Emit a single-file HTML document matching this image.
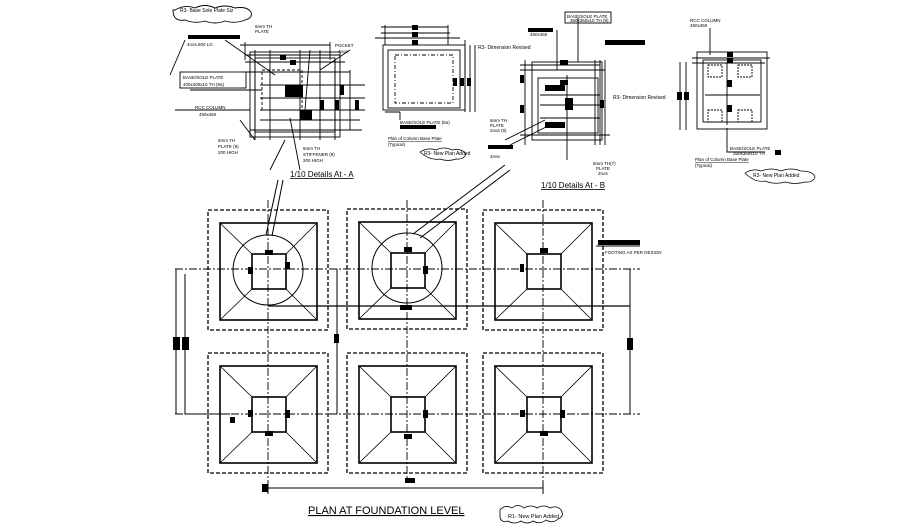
<!DOCTYPE html>
<html><head><meta charset="utf-8"><style>
html,body{margin:0;padding:0;background:#fff}
svg{display:block}
text{font-family:"Liberation Sans",sans-serif;fill:#000}
</style></head><body>
<svg width="905" height="529" viewBox="0 0 905 529" xmlns="http://www.w3.org/2000/svg">
<defs>
<g id="ft">
<rect x="-60" y="-60" width="120" height="120" fill="none" stroke="#000" stroke-width="1.3" stroke-dasharray="4,2"/>
<rect x="-48" y="-47" width="97" height="97" fill="none" stroke="#000" stroke-width="1.6"/>
<rect x="-16" y="-16" width="34" height="35" fill="none" stroke="#000" stroke-width="1.6"/>
<path d="M-48,-47L-16,-16M49,-47L18,-16M-48,50L-16,19M49,50L18,19" stroke="#000" stroke-width="0.8"/>
</g>
</defs>
<g stroke="#000" fill="none">
<!-- axes -->
<g stroke-width="0.9" stroke-dasharray="8,2,2,2">
<path d="M175,269H640M175,414H640"/>
<path d="M268,200V482M407,200V482M543,200V482"/>
</g>
<use href="#ft" x="268" y="270"/>
<use href="#ft" x="407" y="269"/>
<use href="#ft" x="543" y="270"/>
<use href="#ft" x="268" y="413"/>
<use href="#ft" x="407" y="413"/>
<use href="#ft" x="543" y="413"/>
<circle cx="268" cy="270" r="35" stroke-width="1"/>
<circle cx="407" cy="268" r="35" stroke-width="1"/>
<path d="M268,306H630" stroke-width="1.2"/>
<!-- leaders -->
<path d="M266,235L278,180M272,236L283,180M413,234L505,165M420,238L510,170" stroke-width="1"/>
<!-- dims -->
<path d="M176,269V414M185,274V414H230M337,269V414M630,269V414M268,488H543M268,482V494M543,482V494" stroke-width="1"/>
<path d="M596,246H640" stroke-width="1"/>
</g>
<g fill="#000">
<rect x="173" y="337" width="7" height="13"/><rect x="182" y="337" width="7" height="13"/>
<rect x="334" y="334" width="5" height="9"/><rect x="627" y="338" width="6" height="12"/>
<rect x="265" y="250" width="8" height="5"/><rect x="248" y="267" width="5" height="7"/><rect x="285" y="262" width="5" height="7"/>
<rect x="404" y="247" width="8" height="5"/><rect x="423" y="266" width="5" height="8"/><rect x="400" y="305" width="12" height="5"/>
<rect x="540" y="248" width="8" height="5"/><rect x="520" y="264" width="4" height="8"/>
<rect x="248" y="410" width="5" height="7"/><rect x="285" y="410" width="5" height="8"/><rect x="265" y="431" width="8" height="5"/><rect x="230" y="417" width="5" height="6"/>
<rect x="423" y="410" width="5" height="8"/><rect x="404" y="434" width="8" height="5"/>
<rect x="520" y="410" width="5" height="7"/><rect x="560" y="410" width="5" height="8"/><rect x="540" y="431" width="8" height="5"/>
<rect x="598" y="240" width="42" height="5"/>
<rect x="405" y="478" width="10" height="5"/><rect x="262" y="484" width="6" height="8"/>
</g>
<text x="605" y="254" font-size="4.5">FOOTING AS PER DESIGN</text>
<text x="308" y="514" font-size="11" text-decoration="underline">PLAN AT FOUNDATION LEVEL</text>
<g stroke="#000" fill="none" stroke-width="0.8">
<path d="M500,510q5,-6 12,-2q6,-5 12,0q7,-4 13,0q7,-4 13,0q7,-3 11,2q4,6 -3,9q-5,5 -12,1q-6,5 -13,1q-6,4 -12,0q-7,4 -13,0q-7,2 -8,-4z"/>
</g>
<text x="508" y="518" font-size="5.5">R1- New Plan Added</text>

<!-- Detail A -->
<g stroke="#000" fill="none" stroke-width="0.9">
<rect x="250" y="52" width="90" height="85"/>
<rect x="255" y="58" width="80" height="74"/>
<path d="M245,55H340M245,62H345M245,72H350M260,85H365M260,98H365M260,110H365M260,120H360M250,130H362M255,50V140M270,50V140M300,50V140M320,50V140M335,60V140M350,70V130M240,45H330M245,42V60M330,42V60"/>
<rect x="262" y="70" width="40" height="40" stroke-dasharray="3,2"/>
<path d="M275,75L225,40M190,90H262M175,110H250M290,118L300,170M285,140L270,170M350,50L320,70M310,50L305,110M240,120L255,140"/>
<rect x="180" y="72" width="66" height="16"/>
<path d="M185,40L170,75"/>
<path d="M175,10q10,-6 20,-2q10,-5 20,0q10,-4 20,0q12,-2 16,4q2,6 -6,8q-10,4 -20,1q-10,4 -20,0q-10,3 -20,-1q-12,2 -12,-10z"/>
</g>
<g fill="#000"><rect x="188" y="35" width="52" height="4"/><rect x="285" y="85" width="18" height="12"/><rect x="300" y="110" width="12" height="10"/><rect x="320" y="100" width="4" height="10"/><rect x="335" y="100" width="4" height="10"/><rect x="340" y="85" width="4" height="10"/><rect x="355" y="100" width="4" height="10"/><rect x="290" y="60" width="6" height="5"/><rect x="280" y="55" width="6" height="5"/></g>
<text x="180" y="12" font-size="5">R3- Base Sole Plate Siz</text>
<text x="187" y="46" font-size="4.5">4nos.600 LG</text>
<text x="183" y="79" font-size="4.5">BASE/SOLE PLATE</text><text x="183" y="86" font-size="4.5">400x400x10 TH (8a)</text>
<text x="195" y="109" font-size="4.5">RCC COLUMN</text><text x="199" y="116" font-size="4.5">450x450</text>
<text x="255" y="28" font-size="4.5">6mm TH</text><text x="255" y="33" font-size="4.5">PLATE</text>
<text x="335" y="47" font-size="4.5">POCKET</text><text x="338" y="53" font-size="4.5">4nos</text>
<text x="218" y="142" font-size="4.5">6mm TH</text><text x="218" y="148" font-size="4.5">PLATE (9)</text><text x="218" y="154" font-size="4.5">200 HIGH</text>
<text x="303" y="150" font-size="4.5">6mm TH</text><text x="303" y="156" font-size="4.5">STIFFENER (9)</text><text x="303" y="162" font-size="4.5">200 HIGH</text>
<text x="290" y="177" font-size="8" text-decoration="underline">1/10 Details At - A</text>

<!-- Plan of column base plate (A) -->
<g stroke="#000" fill="none" stroke-width="0.9">
<rect x="383" y="45" width="82" height="65"/>
<rect x="388" y="50" width="72" height="58"/>
<rect x="395" y="55" width="58" height="48" stroke-dasharray="4,2,1,2"/>
<path d="M381,27H448M381,33H450M375,38H460M385,25V45M448,25V45M465,40V112M470,45V112M475,45V112M385,112H400M400,112V120"/>
</g>
<g fill="#000"><rect x="412" y="25" width="6" height="5"/><rect x="412" y="32" width="6" height="5"/><rect x="412" y="40" width="6" height="5"/><rect x="453" y="78" width="4" height="8"/><rect x="460" y="78" width="4" height="8"/><rect x="467" y="78" width="4" height="8"/><rect x="400" y="125" width="36" height="4"/></g>
<text x="400" y="124" font-size="4.5">BASE/SOLE PLATE (8a)</text>
<text x="388" y="140" font-size="4.5" text-decoration="underline">Plan of Column Base Plate</text><text x="388" y="146" font-size="4.5">(Typical)</text>
<path d="M420,152q8,-5 16,-2q8,-4 16,0q10,-2 14,4q-2,6 -10,5q-8,3 -16,0q-10,2 -20,-7z" stroke="#000" fill="none" stroke-width="0.7"/>
<text x="424" y="155" font-size="5">R3- New Plan Added</text>

<!-- Detail B -->
<g stroke="#000" fill="none" stroke-width="0.9">
<rect x="532" y="62" width="70" height="78"/>
<rect x="538" y="78" width="60" height="55"/>
<path d="M520,65H600M520,70H605M540,95H600M540,105H600M540,118H600M520,135H610M525,60V145M595,60V145M600,60V145M605,60V145M567,75V160M557,30V70M578,18V62"/>
<rect x="565" y="12" width="46" height="11"/>
<path d="M505,140L545,120M510,145L550,125"/>
</g>
<g fill="#000"><rect x="560" y="60" width="8" height="5"/><rect x="560" y="80" width="8" height="5"/><rect x="565" y="98" width="8" height="12"/><rect x="520" y="75" width="4" height="8"/><rect x="520" y="105" width="4" height="8"/><rect x="600" y="100" width="4" height="8"/><rect x="605" y="40" width="40" height="5"/><rect x="528" y="28" width="25" height="4"/><rect x="488" y="145" width="25" height="4"/><rect x="545" y="85" width="20" height="6"/><rect x="545" y="122" width="20" height="6"/></g>
<text x="567" y="18" font-size="4.5">BASE/SOLE PLATE</text><text x="570" y="22" font-size="4.5">350x350x10 TH (8)</text>
<text x="530" y="36" font-size="4.5">450x450</text>
<text x="478" y="49" font-size="5">R3- Dimension Revised</text>
<text x="613" y="99" font-size="5">R3- Dimension Revised</text>
<text x="490" y="122" font-size="4.5">6mm TH</text><text x="490" y="127" font-size="4.5">PLATE</text><text x="490" y="132" font-size="4.5">2nos (9)</text>
<text x="490" y="158" font-size="4.5">4nos</text>
<text x="593" y="165" font-size="4.5">6mm TH(7)</text><text x="596" y="170" font-size="4.5">PLATE</text><text x="598" y="175" font-size="4.5">2nos</text>
<text x="541" y="188" font-size="8" text-decoration="underline">1/10 Details At - B</text>

<!-- Right plan -->
<g stroke="#000" fill="none" stroke-width="0.9">
<rect x="697" y="52" width="70" height="77"/>
<rect x="703" y="60" width="58" height="62"/>
<path d="M692,58H770M692,63H765M680,62V130M686,62V130M710,28V55M727,62V125M705,95H760M727,128V152H765"/>
<rect x="708" y="65" width="14" height="12" stroke-dasharray="2,1"/><rect x="738" y="65" width="14" height="12" stroke-dasharray="2,1"/>
<rect x="708" y="110" width="14" height="12" stroke-dasharray="2,1"/><rect x="738" y="110" width="14" height="12" stroke-dasharray="2,1"/>
<path d="M745,173q8,-5 16,-2q10,-4 20,0q10,-4 20,0q12,0 14,6q-2,6 -10,5q-10,3 -20,0q-10,3 -20,-1q-10,2 -20,-8z" stroke-width="0.7"/>
</g>
<g fill="#000"><rect x="727" y="52" width="6" height="5"/><rect x="727" y="58" width="6" height="5"/><rect x="677" y="92" width="5" height="8"/><rect x="684" y="92" width="5" height="8"/><rect x="727" y="80" width="5" height="7"/><rect x="727" y="105" width="5" height="7"/><rect x="775" y="150" width="6" height="5"/></g>
<text x="690" y="22" font-size="4.5">RCC COLUMN</text><text x="690" y="27" font-size="4.5">450x450</text>
<text x="730" y="150" font-size="4.5">BASE/SOLE PLATE</text><text x="733" y="155" font-size="4.5">350x350x10 TH</text>
<text x="695" y="161" font-size="4.5" text-decoration="underline">Plan of Column Base Plate</text><text x="695" y="167" font-size="4.5">(Typical)</text>
<text x="753" y="177" font-size="5">R3- New Plan Added</text>
</svg>
</body></html>
